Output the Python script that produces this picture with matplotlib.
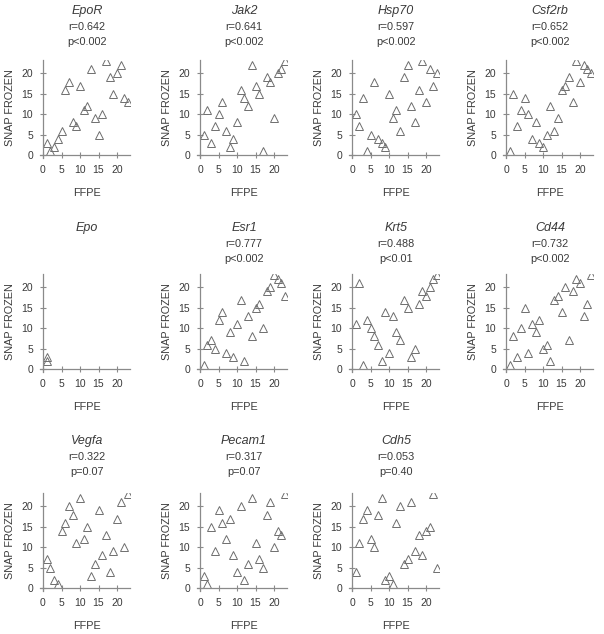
import numpy as np
import matplotlib
matplotlib.use("Agg")
import matplotlib.pyplot as plt

plt.rcParams['font.family'] = ['Liberation Sans', 'DejaVu Sans']

# rank of each sample in FFPE (x) and SNAP FROZEN (y)
ffpe = [1, 2, 3, 4, 5, 6, 7, 8, 9, 10, 11, 12, 13, 14, 15, 16, 17, 18, 19, 20, 21, 22, 23]

eporY = [3, 1, 2, 4, 6, 16, 18, 8, 7, 17, 11, 12, 21, 9, 5, 10, 23, 19, 15, 20, 22, 14, 13]
jak2Y = [5, 11, 3, 7, 10, 13, 6, 2, 4, 8, 16, 14, 12, 22, 17, 15, 1, 19, 18, 9, 20, 21, 23]
hsp70Y = [10, 7, 14, 1, 5, 18, 4, 3, 2, 15, 9, 11, 6, 19, 22, 12, 8, 16, 23, 13, 21, 17, 20]
csf2rbY = [1, 15, 7, 11, 14, 10, 4, 8, 3, 2, 5, 12, 6, 9, 16, 17, 19, 13, 23, 18, 22, 21, 20]
epoX = [1, 1]
epoY = [3, 2]
esr1Y = [1, 6, 7, 5, 12, 14, 4, 9, 3, 11, 17, 2, 13, 8, 15, 16, 10, 19, 20, 23, 22, 21, 18]
krt5Y = [11, 21, 1, 12, 10, 8, 6, 2, 14, 4, 13, 9, 7, 17, 15, 3, 5, 16, 19, 18, 20, 22, 23]
cd44Y = [1, 8, 3, 10, 15, 4, 11, 9, 12, 5, 6, 2, 17, 18, 14, 20, 7, 19, 22, 21, 13, 16, 23]
vegfaY = [7, 5, 2, 1, 14, 16, 20, 18, 11, 22, 12, 15, 3, 6, 19, 8, 13, 4, 9, 17, 21, 10, 23]
pecam1Y = [3, 1, 15, 9, 19, 16, 12, 17, 8, 4, 20, 2, 6, 22, 11, 7, 5, 18, 21, 10, 14, 13, 23]
cdh5Y = [4, 11, 17, 19, 12, 10, 18, 22, 2, 3, 1, 16, 20, 6, 7, 21, 9, 13, 8, 14, 15, 23, 5]

genes = ['EpoR', 'Jak2', 'Hsp70', 'Csf2rb', 'Epo', 'Esr1', 'Krt5', 'Cd44', 'Vegfa', 'Pecam1', 'Cdh5']
rtext = ['r=0.642', 'r=0.641', 'r=0.597', 'r=0.652', '', 'r=0.777', 'r=0.488', 'r=0.732', 'r=0.322', 'r=0.317', 'r=0.053']
ptext = ['p<0.002', 'p<0.002', 'p<0.002', 'p<0.002', '', 'p<0.002', 'p<0.01', 'p<0.002', 'p=0.07', 'p=0.07', 'p=0.40']
xs = [ffpe, ffpe, ffpe, ffpe, epoX, ffpe, ffpe, ffpe, ffpe, ffpe, ffpe]
ys = [eporY, jak2Y, hsp70Y, csf2rbY, epoY, esr1Y, krt5Y, cd44Y, vegfaY, pecam1Y, cdh5Y]

W, H = 604, 634
fig = plt.figure(figsize=(W / 100, H / 100), dpi=100)

colx = [43, 200, 352, 506]       # pixel x of the y axis (data 0)
rowy = [155, 369, 588]           # pixel y of the x axis (data 0)
sx, sy = 3.7, 4.08               # pixels per data unit
x0, x1, y0, y1 = -0.7, 23.6, -0.7, 23.2

axcol = '#8a8a8a'
txtcol = '#3a3a3a'
mcol = '#6e6e6e'

def ptext_at(px, py, s, **kw):
    fig.text(px / W, 1 - py / H, s, ha='center', va='center', color=txtcol, **kw)

for i, g in enumerate(genes):
    r, c = divmod(i, 4)
    ox, oy = colx[c], rowy[r]
    left = ox + x0 * sx
    bottom = oy - y0 * sy
    ax = fig.add_axes([left / W, 1 - bottom / H, (x1 - x0) * sx / W, (y1 - y0) * sy / H])
    ax.plot(xs[i], ys[i], linestyle='none', marker='^', markersize=5.2,
            markerfacecolor='none', markeredgecolor=mcol, markeredgewidth=0.7)
    ax.set_xlim(x0, x1)
    ax.set_ylim(y0, y1)
    ax.spines['top'].set_visible(False)
    ax.spines['right'].set_visible(False)
    ax.spines['left'].set_position(('data', 0))
    ax.spines['bottom'].set_position(('data', 0))
    for s in ['left', 'bottom']:
        ax.spines[s].set_color(axcol)
        ax.spines[s].set_linewidth(0.9)
    ax.set_xticks([0, 5, 10, 15, 20])
    ax.set_yticks([0, 5, 10, 15, 20])
    ax.tick_params(direction='inout', length=4, width=0.8, color=axcol,
                   labelsize=7.5, labelcolor=txtcol, pad=5)
    ax.patch.set_alpha(0)

    cx = ox + 44
    top = oy - 94
    if r == 1:
        gy = top - 47
    elif r == 2:
        gy = top - 53
    else:
        gy = top - 50
    ptext_at(cx, gy, g, fontsize=9, style='italic')
    if rtext[i]:
        ptext_at(cx, gy + 16, rtext[i], fontsize=7.8)
        ptext_at(cx, gy + 31, ptext[i], fontsize=7.8)
    ptext_at(cx, oy + 38, 'FFPE', fontsize=7.8)
    ptext_at(ox - 33, oy - 47, 'SNAP FROZEN', fontsize=7.8, rotation=90)

fig.savefig('out.png', dpi=100)
